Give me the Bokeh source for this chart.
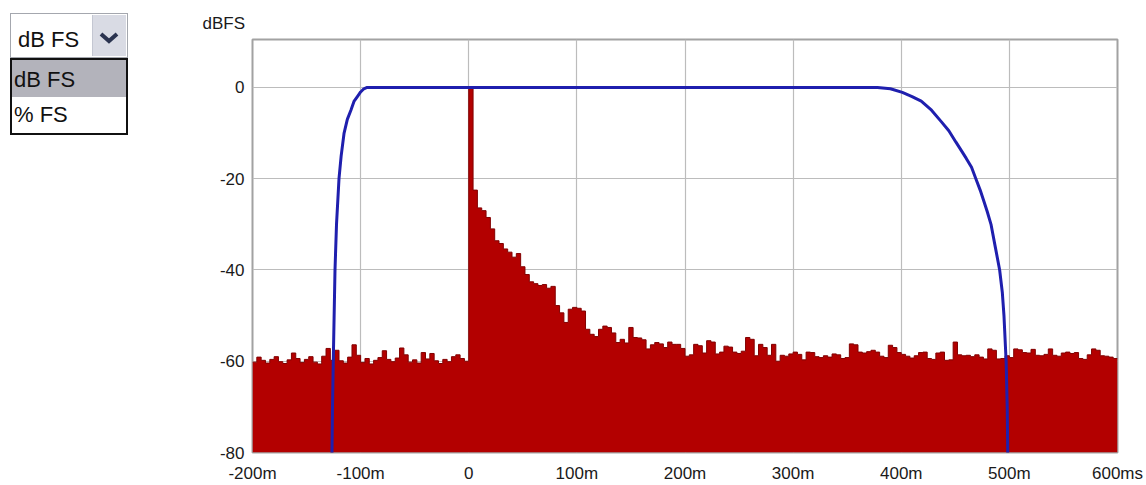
from bokeh.plotting import figure
from bokeh.layouts import row
from bokeh.models import Range1d, FixedTicker, Title, Div
from bokeh.embed import file_html
from bokeh.resources import INLINE

# ---------------- data ----------------
BIN_MS = 4
# noise before the impulse, bins starting at -200 ms
pre_impulse_db = [-60.2, -59.1, -59.8, -60.4, -59.6, -59.0, -60.1, -60.5, -59.7, -58.2,
                  -59.4, -60.3, -59.6, -59.0, -60.2, -60.6, -58.9, -57.2, -59.8, -57.6,
                  -59.9, -60.4, -59.1, -56.4, -58.7, -60.3, -59.4, -60.6, -59.8, -59.2,
                  -57.7, -59.6, -60.1, -59.3, -57.1, -58.6, -60.2, -59.7, -60.4, -58.1,
                  -59.5, -58.3, -59.9, -60.5, -59.6, -60.1, -59.0, -58.6, -59.4, -60.0]
# impulse and decay, bins starting at 0 ms
decay_db = [0.0, -22.5, -26.4, -27.0, -28.5, -31.0, -33.6, -34.2, -35.4, -36.1,
            -37.2, -36.4, -39.3, -41.0, -42.6, -43.0, -43.4, -43.2, -44.0, -43.6,
            -47.8, -49.4, -51.5, -48.6, -48.2, -48.4, -49.0, -53.0, -54.1, -54.6,
            -53.0, -52.3, -52.6, -53.8, -55.9, -55.2, -56.0, -52.6, -54.8, -54.9,
            -55.3, -57.3, -56.4, -55.9, -56.2, -57.0, -55.8, -56.3]
# tail, bins starting at 192 ms
tail_a_db = [-56.3, -57.2, -58.9, -58.6, -56.3, -56.6, -58.2, -55.5, -55.8, -58.4,
             -58.0, -56.7, -56.9, -58.0, -58.3, -57.8, -54.8, -55.2, -58.8, -56.3,
             -57.0, -58.7, -56.3, -60.0, -58.7, -58.9, -58.4, -58.0, -58.5, -59.7,
             -58.0, -58.1, -59.0, -59.2, -58.8, -59.1, -58.4, -58.6, -59.4, -59.2,
             -56.2, -56.4, -58.0, -58.2, -57.9, -57.6, -58.0, -58.9, -59.2, -56.5,
             -57.0, -58.1]
# tail, bins starting at 400 ms
tail_b_db = [-58.5, -58.9, -59.3, -58.8, -58.1, -58.0, -59.4, -59.6, -58.2, -58.0,
             -59.8, -59.7, -55.8, -58.6, -58.8, -58.7, -59.0, -58.6, -59.1, -59.5,
             -57.3, -57.6, -59.5, -59.4, -58.8, -59.2, -57.3, -57.5, -58.1, -58.2,
             -57.4, -58.7, -58.8, -58.5, -57.3, -58.7, -58.9, -58.2, -58.0, -58.3,
             -58.1, -59.4, -59.6, -58.6, -57.3, -57.6, -58.8, -58.9, -59.1, -59.4]

level_db = pre_impulse_db + decay_db + tail_a_db + tail_b_db
bin_start = [-200 + BIN_MS * i for i in range(len(level_db))]
edges = bin_start + [bin_start[-1] + BIN_MS]
levels_ext = level_db + [level_db[-1]]

# window curve (ms, dBFS)
window_ms = [-126.8, -126.5, -126.0, -125.3, -123.7, -122.3, -120.0, -118.0, -115.3,
             -112.3, -109.0, -106.0, -103.0, -100.0, -97.0, -94.0,
             378.0, 390.0, 401.0, 410.0, 418.5, 428.0, 437.0, 444.0, 450.6, 460.0,
             465.0, 469.0, 473.0, 476.5, 479.5, 483.0, 487.0, 491.0, 493.5, 495.0,
             497.0, 498.0, 498.5, 498.8]
window_db = [-90.0, -80.0, -70.0, -60.0, -40.0, -30.0, -20.0, -15.0, -10.0,
             -7.0, -5.0, -3.0, -2.0, -1.0, -0.3, 0.0,
             0.0, -0.3, -1.1, -2.0, -3.0, -5.0, -7.5, -9.5, -12.0, -15.5,
             -17.5, -20.0, -22.5, -25.0, -27.2, -30.0, -35.0, -40.0, -45.0, -50.0,
             -60.0, -70.0, -80.0, -90.0]

x_ticks = [-200, -100, 0, 100, 200, 300, 400, 500, 600]
x_tick_labels = ["-200m", "-100m", "0", "100m", "200m", "300m", "400m", "500m", "600ms"]
y_ticks = [-80, -60, -40, -20, 0]
y_tick_labels = ["-80", "-60", "-40", "-20", "0"]

unit_options = ["dB FS", "% FS"]
selected_unit = "dB FS"

FONT = "Liberation Sans"

# ---------------- dropdown (HTML) ----------------
txt = "font-family:'Liberation Sans',Arial,sans-serif;font-size:22px;line-height:22px;color:#111;white-space:nowrap;"
dd_html = (
    '<div style="position:relative;width:190px;height:485px;">'
    '<div style="position:absolute;left:10px;top:13px;width:118px;height:45px;box-sizing:border-box;'
    'border:1.5px solid #a4a7ae;background:#ffffff;"></div>'
    '<div style="position:absolute;left:92px;top:15px;width:34px;height:41px;box-sizing:border-box;'
    'background:#d9dbe4;border-left:1px solid #c4c7d2;"></div>'
    '<svg style="position:absolute;left:92px;top:15px;" width="34" height="41">'
    '<polyline points="9,19 17,26 25,19" fill="none" stroke="#2b3450" stroke-width="4"/></svg>'
    f'<div style="position:absolute;left:18px;top:29px;{txt}">{selected_unit}</div>'
    '<div style="position:absolute;left:10px;top:58px;width:118px;height:77px;box-sizing:border-box;'
    'border:2px solid #111111;background:#ffffff;"></div>'
    '<div style="position:absolute;left:12px;top:60px;width:114px;height:37px;background:#b3b3bb;"></div>'
    f'<div style="position:absolute;left:14px;top:69px;{txt}">{unit_options[0]}</div>'
    f'<div style="position:absolute;left:14px;top:104px;{txt}">{unit_options[1]}</div>'
    '</div>'
)
dd = Div(text=dd_html, width=190, height=485, margin=0)

# ---------------- main chart ----------------
p = figure(width=956, height=485, x_range=Range1d(-200, 600), y_range=Range1d(-80, 10.5),
           output_backend="svg", toolbar_location=None,
           min_border_left=62, min_border_right=29, min_border_top=39, min_border_bottom=30)
p.title = Title(text="dBFS", align="left", offset=-50, text_font_size="17px",
                text_font_style="normal", text_font=FONT, text_color="#1a1a1a", standoff=13)
p.background_fill_color = "white"
p.border_fill_color = "white"
p.outline_line_color = "#a2a2a2"
p.outline_line_width = 2

p.xaxis.ticker = FixedTicker(ticks=x_ticks)
p.xaxis.major_label_overrides = dict(zip(x_ticks, x_tick_labels))
p.yaxis.ticker = FixedTicker(ticks=y_ticks)
p.yaxis.major_label_overrides = dict(zip(y_ticks, y_tick_labels))
for ax in (p.xaxis, p.yaxis):
    ax.axis_line_color = None
    ax.major_tick_line_color = None
    ax.minor_tick_line_color = None
    ax.major_tick_out = 0
    ax.major_tick_in = 0
    ax.major_label_text_font = FONT
    ax.major_label_text_font_size = "17px"
    ax.major_label_text_color = "#1a1a1a"
p.xaxis.major_label_standoff = 11
p.yaxis.major_label_standoff = 8

p.xgrid.grid_line_color = "#bcbcbc"
p.ygrid.grid_line_color = "#bcbcbc"
p.xgrid.grid_line_width = 1.2
p.ygrid.grid_line_width = 1.2

p.varea_step(x=edges, y1=[-80] * len(edges), y2=levels_ext, step_mode="after",
             fill_color="#b30000")
p.step(x=edges, y=levels_ext, mode="after", line_color="#820000", line_width=1.0)

p.line(x=window_ms, y=window_db, line_color="#1f1fae", line_width=3)

layout = row(dd, p)
open("out.html", "w").write(file_html(layout, INLINE))
